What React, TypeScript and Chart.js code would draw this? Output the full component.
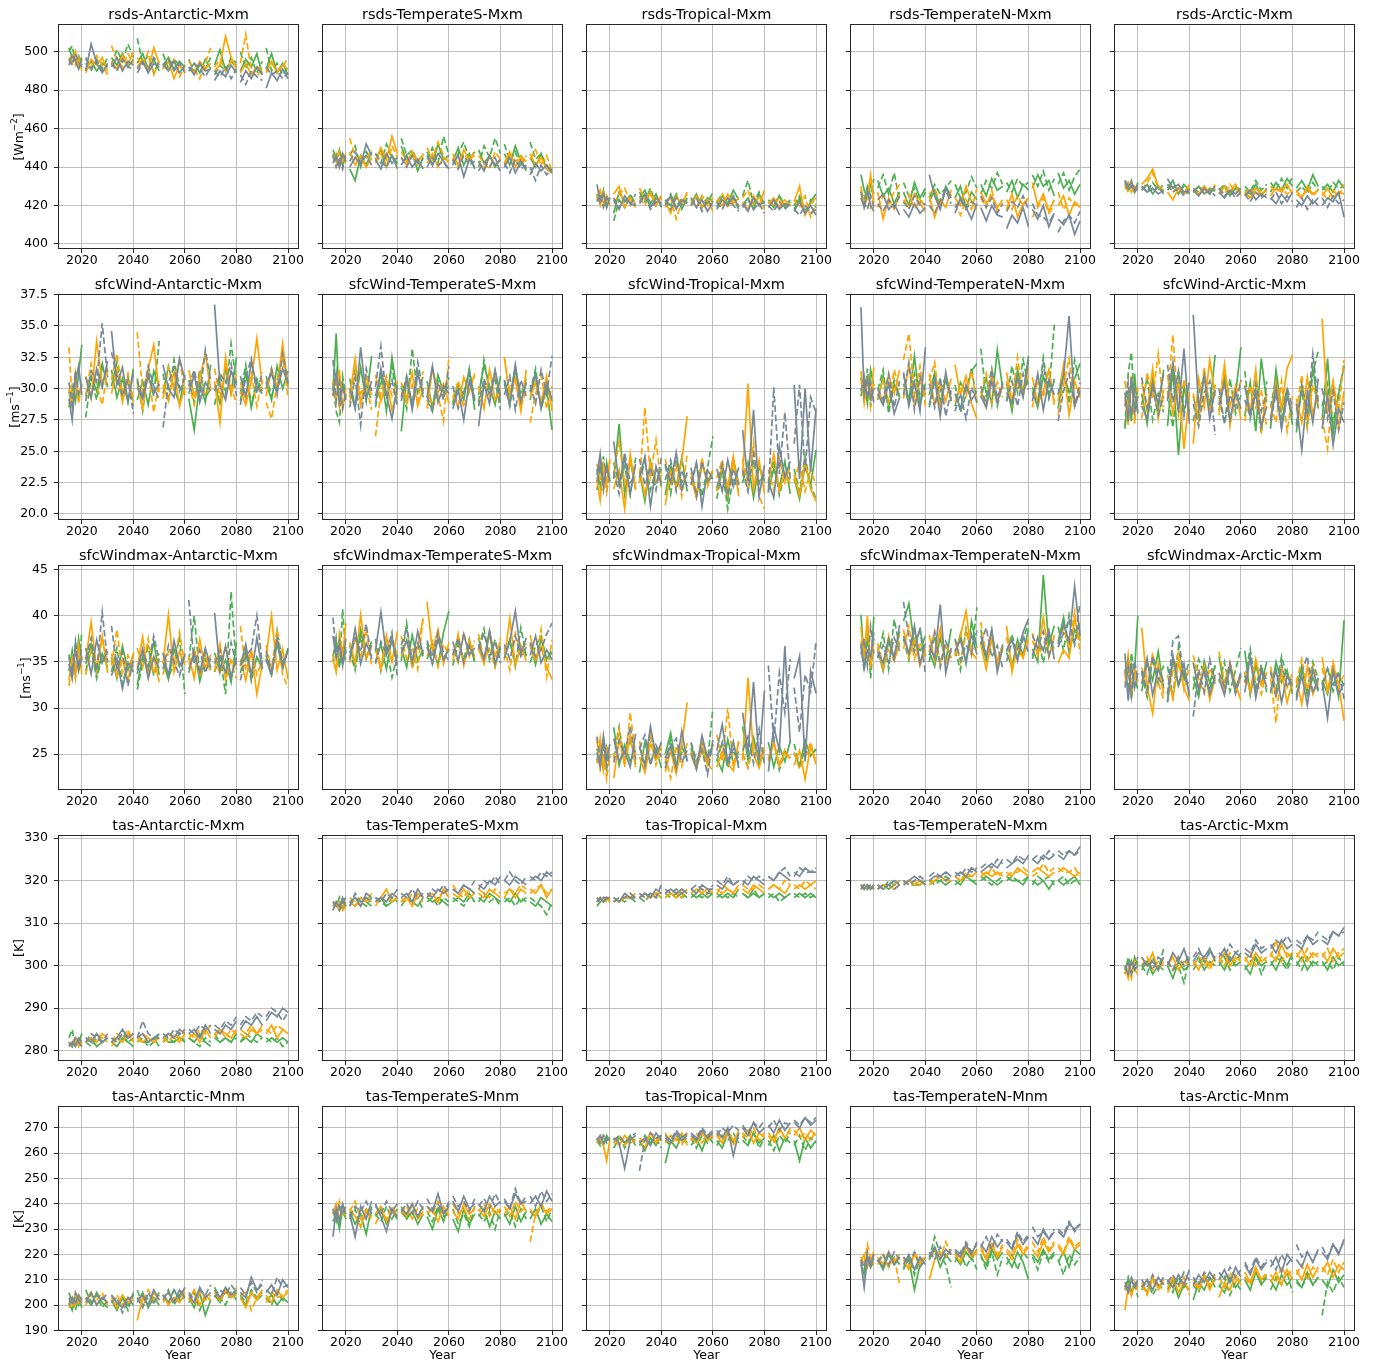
import React, { useEffect, useRef } from "react";
import { Chart, registerables } from "chart.js";
Chart.register(...registerables);

// x positions (years); each decade forms one segment of 5 samples, gaps between segments
const YEARS = [2015, 2016.25, 2017.5, 2018.75, 2020,
  2021.5, 2023.6, 2025.75, 2027.9, 2030,
  2031.5, 2033.6, 2035.75, 2037.9, 2040,
  2041.5, 2043.6, 2045.75, 2047.9, 2050,
  2051.5, 2053.6, 2055.75, 2057.9, 2060,
  2061.5, 2063.6, 2065.75, 2067.9, 2070,
  2071.5, 2073.6, 2075.75, 2077.9, 2080,
  2081.5, 2083.6, 2085.75, 2087.9, 2090,
  2091.5, 2093.6, 2095.75, 2097.9, 2100];
const SEG_LEN = 5;
const X_TICKS = [2020, 2040, 2060, 2080, 2100];
const X_MIN = 2010.75;
const X_MAX = 2104.25;

const ROW_TICKS = [
  [400, 420, 440, 460, 480, 500],
  [20, 22.5, 25, 27.5, 30, 32.5, 35, 37.5],
  [25, 30, 35, 40, 45],
  [280, 290, 300, 310, 320, 330],
  [190, 200, 210, 220, 230, 240, 250, 260, 270],
];
const ROW_MIN = [397.4, 19.52, 21.12, 277.57, 189.8];
const ROW_MAX = [514.4, 37.55, 45.49, 330.73, 278.6];
const ROW_UNIT = ["Wm", "ms", "ms", "K", "K"];
const ROW_SUP = ["−2", "−1", "−1", "", ""];

// ---------- rsds ----------
const RSDS_ANT_G1 = [502,497,499,494,497, 491,495,490,494,492, 497,493,499,492,496, 494,499,491,496,490, 493,497,491,495,492, 490,494,489,496,491, 493,501,490,495,492, 490,496,492,499,488, 491,499,489,494,488];
const RSDS_ANT_G2 = [500,503,495,498,493, 494,490,496,491,497, 493,501,495,504,497, 507,494,498,489,495, 499,491,496,493,490, 496,489,493,491,497, 488,493,490,497,494, 500,491,497,489,495, 502,490,494,488,492];
const RSDS_ANT_O1 = [497,494,500,492,496, 489,496,493,497,490, 495,491,498,493,500, 492,496,490,502,494, 491,495,486,493,490, 492,489,495,491,494, 490,493,508,497,491, 489,494,488,492,491, 490,495,489,493,491];
const RSDS_ANT_O2 = [495,499,493,497,490, 496,492,498,493,488, 503,496,492,499,494, 497,493,500,488,495, 493,490,496,487,492, 495,491,486,494,502, 492,496,490,495,493, 494,509,490,487,492, 489,494,490,492,497];
const RSDS_ANT_S1 = [493,498,495,491,496, 490,504,494,489,494, 492,497,490,495,493, 491,495,489,494,492, 494,490,495,489,493, 492,488,494,490,491, 485,490,487,493,489, 484,490,486,492,488, 481,489,485,491,486];
const RSDS_ANT_S2 = [496,493,499,495,492, 497,491,495,490,493, 494,490,496,492,491, 489,494,491,497,493, 492,496,490,494,489, 490,494,491,487,492, 490,487,492,486,491, 488,483,490,487,485, 492,488,490,486,489];

const RSDS_TS_G1 = [447,443,449,441,445, 439,433,446,441,448, 444,449,440,446,442, 451,443,447,438,445, 448,441,452,444,446, 443,450,441,447,439, 449,442,446,440,444, 447,441,451,443,438, 445,440,447,439,437];
const RSDS_TS_G2 = [449,445,442,447,443, 446,451,440,448,444, 447,442,452,445,441, 455,446,449,443,447, 444,450,442,456,446, 441,447,453,444,448, 440,451,445,455,447, 452,443,448,440,446, 453,444,447,441,438];
const RSDS_TS_O1 = [444,447,440,446,442, 448,441,446,440,445, 443,450,444,456,447, 445,441,448,443,446, 442,447,440,445,443, 447,441,449,444,446, 443,439,446,441,444, 442,448,440,446,443, 447,441,445,439,437];
const RSDS_TS_O2 = [446,441,448,443,447, 455,446,441,444,449, 442,447,440,451,445, 448,443,446,441,447, 450,444,453,446,442, 445,440,447,443,449, 446,442,439,448,444, 441,447,443,445,440, 444,449,441,446,438];
const RSDS_TS_S1 = [442,446,440,447,443, 440,445,441,452,446, 444,439,447,442,445, 441,446,440,444,439, 446,441,447,443,439, 442,446,435,444,440, 443,438,446,441,444, 440,445,437,443,439, 436,442,438,441,437];
const RSDS_TS_S2 = [446,440,444,439,447, 443,448,442,446,441, 447,443,440,446,439, 445,440,446,442,444, 440,445,441,443,438, 444,439,446,441,443, 438,443,440,445,437, 442,437,444,439,441, 440,433,441,436,439];

const RSDS_TR_G1 = [426,421,428,419,424, 416,427,422,425,420, 424,428,421,426,419, 423,420,426,418,424, 421,426,419,424,422, 419,425,421,428,423, 420,424,418,426,421, 422,419,425,420,423, 418,424,416,422,426];
const RSDS_TR_G2 = [424,427,420,425,422, 412,423,419,426,421, 427,422,429,420,425, 421,426,419,424,422, 424,419,425,421,427, 422,426,420,424,418, 425,433,421,427,419, 423,420,425,419,422, 420,425,417,423,419];
const RSDS_TR_O1 = [423,428,421,425,420, 426,430,419,424,421, 429,423,426,420,424, 422,416,425,420,427, 420,425,419,423,417, 423,420,426,421,424, 422,418,425,420,428, 421,424,419,423,420, 422,430,415,421,424];
const RSDS_TR_O2 = [425,420,427,422,424, 421,426,429,422,419, 424,420,427,422,425, 419,424,413,422,426, 423,419,425,420,424, 421,426,419,423,420, 424,428,420,425,418, 422,420,424,419,421, 423,419,425,414,421];
const RSDS_TR_S1 = [431,422,426,419,424, 423,418,425,421,420, 422,426,419,424,421, 420,425,418,423,421, 424,419,423,417,422, 418,423,420,425,419, 421,417,424,420,422, 419,423,418,421,420, 417,422,416,420,415];
const RSDS_TR_S2 = [422,426,419,424,421, 424,419,423,420,426, 421,425,418,422,420, 423,418,424,420,422, 420,424,417,423,419, 422,418,424,420,417, 419,423,418,421,416, 420,417,422,418,421, 418,415,420,416,418];

const RSDS_TN_G1 = [436,428,424,431,426, 433,425,429,421,427, 427,420,432,424,429, 422,428,419,430,425, 424,430,419,427,423, 431,425,434,428,430, 427,433,424,431,428, 429,436,430,433,425, 437,429,433,426,431];
const RSDS_TN_G2 = [428,423,430,425,434, 429,436,426,437,422, 432,425,429,421,427, 424,431,426,429,433, 431,424,427,435,429, 426,433,429,437,431, 432,427,434,430,432, 436,430,438,428,434, 431,437,428,435,439];
const RSDS_TN_O1 = [430,419,424,436,421, 427,413,424,418,426, 423,419,426,421,417, 425,414,423,419,428, 424,420,430,422,418, 427,421,425,419,423, 418,426,414,421,424, 432,420,426,417,423, 420,425,415,422,419];
const RSDS_TN_O2 = [426,421,428,419,424, 419,425,421,427,431, 421,426,418,423,420, 426,429,421,427,425, 421,415,423,418,429, 424,419,428,417,421, 423,418,425,420,424, 414,419,424,416,420, 427,418,424,420,421];
const RSDS_TN_S1 = [424,419,428,420,417, 423,426,418,421,415, 418,414,421,416,419, 436,425,418,429,424, 416,424,419,413,421, 419,412,420,415,414, 408,415,411,419,409, 418,413,420,409,416, 413,410,415,405,412];
const RSDS_TN_S2 = [427,421,418,425,419, 421,417,423,419,425, 422,418,425,420,421, 420,416,423,428,421, 419,423,418,422,420, 425,419,424,416,421, 417,422,419,425,418, 421,415,414,411,416, 406,412,415,411,417];

const RSDS_AR_G1 = [431,428,433,427,430, 428,431,426,430,427, 429,433,426,431,428, 427,430,426,429,428, 426,430,425,429,427, 428,426,431,425,429, 427,432,428,434,430, 429,433,428,436,430, 428,431,427,433,429];
const RSDS_AR_G2 = [433,429,431,427,432, 430,427,432,428,431, 428,431,427,430,426, 429,427,430,426,428, 428,431,426,430,428, 430,427,433,428,431, 432,428,434,429,435, 427,430,426,432,428, 430,427,432,429,430];
const RSDS_AR_O1 = [429,432,427,430,428, 431,434,439,430,428, 427,423,429,426,431, 428,426,430,427,429, 426,430,427,431,425, 427,424,429,426,428, 425,429,427,431,426, 428,424,430,426,428, 425,429,424,427,426];
const RSDS_AR_O2 = [430,427,431,428,429, 428,432,437,429,427, 431,427,430,426,429, 427,430,428,426,431, 429,426,431,427,428, 426,429,425,428,427, 430,427,429,426,428, 426,424,429,425,428, 427,423,428,425,431];
const RSDS_AR_S1 = [433,430,432,428,431, 430,427,429,426,428, 434,429,431,427,428, 428,425,429,426,430, 427,424,428,426,429, 425,428,423,426,424, 424,421,426,422,427, 423,420,425,421,424, 420,424,422,427,414];
const RSDS_AR_S2 = [432,428,430,427,429, 428,431,427,430,426, 431,427,429,425,428, 427,430,426,428,425, 429,425,428,424,427, 426,422,427,424,426, 423,427,421,425,422, 419,424,418,423,420, 424,419,425,421,423];

// ---------- sfcWind ----------
const WIND_ANT_G1 = [28.5,30.2,29.0,31.2,33.5, 29.4,31.0,29.8,32.0,30.1, 31.5,29.3,30.8,28.9,31.6, 29.1,30.6,28.7,31.4,30.2, 29.6,31.8,30.0,28.8,31.1, 29.2,26.7,30.5,28.9,31.9, 30.4,28.8,31.6,29.7,32.5, 29.0,31.3,28.5,30.6,29.8, 30.5,29.1,31.8,30.0,31.4];
const WIND_ANT_G2 = [29.8,28.4,31.0,29.2,30.4, 27.7,30.9,29.1,31.7,30.3, 30.2,32.1,29.5,31.0,28.6, 30.8,28.2,31.5,29.4,33.8, 31.2,29.0,32.3,30.1,29.5, 30.7,28.9,31.5,29.3,30.0, 28.7,31.0,29.6,33.6,30.4, 29.6,31.9,28.6,30.8,29.9, 31.0,29.4,30.7,32.9,30.1];
const WIND_ANT_O1 = [30.0,28.6,31.1,29.4,30.3, 31.0,29.2,33.8,30.4,31.6, 29.6,31.5,28.9,30.7,29.3, 30.5,28.4,31.6,33.5,29.7, 30.3,29.0,31.4,28.6,30.2, 31.5,29.4,30.8,32.8,29.9, 30.6,27.3,32.5,29.5,31.1, 29.8,28.7,30.6,34.0,30.3, 29.4,31.6,30.0,33.6,30.2];
const WIND_ANT_O2 = [33.3,29.0,31.2,28.8,30.5, 29.5,32.0,30.3,28.7,31.5, 30.7,32.8,29.6,31.2,28.9, 34.5,29.8,31.4,28.1,30.6, 29.2,31.7,30.0,32.4,29.6, 30.4,28.7,31.1,29.5,30.2, 31.6,29.3,32.0,30.1,28.8, 30.5,29.0,31.2,28.6,30.7, 28.9,27.6,30.4,32.6,29.3];
const WIND_ANT_S1 = [29.2,27.5,30.6,31.8,29.5, 30.9,29.3,31.6,30.1,32.2, 34.6,30.3,31.7,29.0,31.2, 30.1,29.2,31.0,29.6,30.4, 31.9,30.0,29.3,32.4,30.7, 29.6,31.1,28.9,30.5,29.8, 36.7,30.2,29.1,31.4,30.3, 31.0,29.4,32.1,30.2,29.6, 30.4,31.2,29.8,31.6,30.5];
const WIND_ANT_S2 = [30.5,28.7,31.4,29.6,30.2, 29.0,31.4,30.6,35.2,30.9, 32.9,31.0,29.4,30.7,28.0, 30.6,29.3,31.8,30.2,29.1, 26.9,30.5,31.7,29.8,30.9, 30.2,31.5,29.4,33.1,30.6, 29.8,31.2,30.5,32.0,29.4, 28.7,30.9,32.4,29.6,31.3, 30.0,31.6,29.5,32.8,30.4];

const WIND_TS_G1 = [29.8,34.4,28.6,30.5,29.2, 30.8,28.5,31.7,29.0,32.6, 29.4,31.2,28.2,32.5,29.6, 26.6,30.9,28.7,31.4,29.3, 30.6,28.5,31.1,29.7,30.2, 28.9,30.4,29.1,31.6,28.3, 29.5,31.9,30.2,28.7,31.0, 30.7,29.2,31.8,28.8,30.5, 29.1,31.3,28.4,30.0,26.7];
const WIND_TS_G2 = [30.5,28.2,27.3,31.0,29.4, 29.6,31.5,28.8,30.3,29.0, 28.5,30.7,29.3,31.8,28.9, 30.2,28.4,33.2,29.5,31.0, 29.1,28.2,30.6,29.4,30.9, 28.7,30.1,29.6,31.5,29.2, 28.9,32.3,29.8,30.7,28.3, 30.4,28.6,31.4,29.5,30.8, 29.7,31.6,28.5,30.1,29.0];
const WIND_TS_O1 = [30.6,29.0,31.5,28.4,30.0, 29.3,32.4,28.7,31.0,29.5, 31.1,29.0,30.6,28.3,29.8, 30.5,29.2,31.3,28.6,30.1, 28.4,31.6,29.7,30.4,28.8, 29.5,28.6,30.9,29.8,31.2, 30.2,28.4,31.5,29.1,30.0, 32.4,29.6,30.8,28.2,31.5, 29.3,30.5,28.9,31.0,28.2];
const WIND_TS_O2 = [29.5,30.8,28.6,30.1,29.3, 28.9,31.2,29.6,30.4,28.3, 26.2,29.8,31.0,29.4,30.6, 29.7,28.8,30.3,29.0,31.4, 30.1,28.6,29.5,27.4,32.6, 29.2,30.6,28.5,29.8,31.0, 28.7,30.2,29.4,31.3,28.9, 32.5,29.3,30.7,28.6,29.9, 27.3,29.6,31.1,28.4,30.2];
const WIND_TS_S1 = [29.4,31.3,28.9,30.2,29.1, 30.0,28.4,33.3,29.2,30.6, 28.8,31.6,29.5,27.6,30.3, 29.0,30.8,28.3,31.2,29.6, 29.3,31.8,28.9,30.2,29.6, 28.4,29.9,27.5,30.6,29.1, 27.0,30.4,28.8,31.5,29.4, 30.6,28.7,31.9,29.0,30.5, 29.8,31.1,28.5,30.4,29.2];
const WIND_TS_S2 = [32.3,29.0,30.5,28.4,29.6, 28.5,30.9,27.1,31.6,29.8, 30.1,33.4,29.2,30.7,28.6, 29.3,31.0,28.6,32.1,29.8, 29.4,28.2,30.5,29.1,31.8, 30.2,28.4,29.7,31.2,29.0, 28.6,30.8,29.5,31.4,28.8, 29.5,31.0,28.3,30.7,29.4, 30.3,28.8,31.5,29.6,32.6];

const WIND_TR_G1 = [21.9,23.8,22.3,24.1,22.6, 22.8,27.2,21.6,24.3,22.0, 23.4,21.0,24.2,22.5,23.6, 21.5,23.9,22.2,24.5,21.8, 23.0,21.4,24.0,22.7,23.3, 21.9,23.5,21.2,24.4,22.4, 22.5,24.1,21.3,23.8,22.6, 21.8,23.6,22.1,24.2,21.6, 22.8,21.2,23.9,22.3,25.1];
const WIND_TR_G2 = [23.6,22.1,24.6,21.8,23.2, 24.1,22.3,23.8,21.5,24.5, 22.6,24.2,21.9,23.5,22.2, 23.9,21.6,24.4,22.5,23.1, 22.3,24.0,21.4,23.7,26.2, 21.2,23.6,20.4,22.9,21.8, 23.4,21.9,24.1,22.6,23.0, 22.2,24.3,21.5,23.2,22.7, 23.6,21.8,24.6,22.3,21.2];
const WIND_TR_O1 = [22.7,21.1,23.9,22.3,24.4, 22.0,23.5,20.4,24.8,21.9, 23.6,21.5,24.0,22.6,23.1, 20.7,23.4,22.1,24.2,27.8, 22.9,21.3,24.1,22.4,23.5, 21.8,23.9,22.2,24.6,21.4, 23.0,30.4,22.0,24.3,21.6, 22.5,24.8,21.9,23.3,22.4, 23.1,21.5,24.2,22.0,21.0];
const WIND_TR_O2 = [24.0,22.6,23.4,21.8,24.2, 23.1,25.8,22.4,24.1,22.9, 22.5,28.5,23.0,25.9,22.1, 24.4,22.3,23.9,21.4,24.8, 23.3,21.7,24.5,22.2,23.6, 22.9,24.3,21.6,23.9,22.4, 24.4,22.0,25.7,21.4,20.4, 23.5,21.9,24.4,22.5,23.8, 22.6,24.1,21.8,23.5,22.3];
const WIND_TR_S1 = [23.1,24.8,22.2,23.9,22.6, 25.8,22.4,24.5,21.6,24.0, 22.9,24.6,20.6,23.8,22.4, 24.0,22.5,24.9,21.9,23.3, 22.4,24.1,20.6,23.5,22.8, 23.6,21.8,24.3,22.2,23.7, 26.7,22.6,28.3,21.4,23.9, 22.6,21.3,25.4,22.9,24.2, 30.3,22.8,30.0,23.4,28.4];
const WIND_TR_S2 = [22.6,24.2,21.9,23.5,22.8, 23.4,21.6,24.9,22.5,23.1, 24.4,22.3,23.7,21.9,24.5, 22.7,24.3,21.8,23.5,22.2, 23.7,21.4,24.2,22.6,23.0, 22.1,24.0,21.5,23.6,22.3, 23.5,21.8,24.8,22.4,23.2, 21.7,30.1,23.2,28.1,22.8, 25.6,30.3,23.4,29.3,28.1];

const WIND_TN_G1 = [29.4,30.6,28.8,31.5,30.2, 29.1,31.0,28.6,30.3,29.5, 31.2,29.0,32.6,28.7,30.4, 29.5,31.3,28.9,30.7,29.2, 28.6,30.5,29.8,31.4,32.0, 29.3,30.9,28.7,33.1,30.0, 30.4,28.2,31.5,29.6,32.6, 29.8,28.5,31.0,29.4,30.6, 28.4,31.2,29.7,30.8,32.0];
const WIND_TN_G2 = [30.9,29.2,31.6,28.6,30.1, 29.9,31.5,28.0,30.7,29.3, 30.4,28.8,31.2,29.5,30.0, 28.5,30.6,29.8,31.0,29.0, 30.3,28.1,29.5,31.7,28.9, 33.2,29.4,31.6,28.6,30.5, 29.0,31.8,29.7,32.3,30.2, 30.1,28.9,32.5,29.6,35.1, 29.5,31.7,28.8,32.3,30.4];
const WIND_TN_O1 = [31.4,28.8,30.6,29.5,31.7, 30.0,28.9,31.1,29.6,31.5, 29.2,31.9,28.6,30.7,29.4, 31.2,28.7,30.3,29.0,30.8, 31.9,29.5,31.0,28.8,27.6, 29.8,28.5,31.3,29.0,30.2, 31.3,28.9,30.6,29.5,31.7, 30.9,28.8,29.8,31.5,28.7, 29.0,31.9,27.9,30.6,29.3];
const WIND_TN_O2 = [30.5,29.7,31.1,28.6,30.4, 29.2,30.7,28.9,31.5,29.9, 32.3,34.4,29.5,31.8,28.6, 30.6,32.1,28.4,31.0,29.5, 28.9,30.2,29.4,31.4,28.8, 29.6,31.2,28.9,30.5,29.3, 30.6,28.8,32.5,29.5,31.0, 28.5,30.7,29.3,31.6,28.9, 27.9,30.3,32.4,28.8,30.1];
const WIND_TN_S1 = [36.5,29.5,30.8,29.2,30.0, 29.6,28.7,30.4,28.0,29.3, 31.3,28.6,30.5,28.2,33.3, 28.7,30.8,27.8,31.3,29.0, 29.6,28.4,30.3,29.1,29.8, 29.4,28.5,30.6,28.9,30.4, 29.7,28.8,30.9,29.3,32.3, 29.0,31.2,28.3,30.7,29.5, 29.6,31.0,35.8,28.6,29.8];
const WIND_TN_S2 = [29.8,31.0,29.3,30.5,28.9, 30.0,29.1,31.2,28.5,30.6, 29.5,32.1,28.3,31.0,29.6, 30.4,28.5,30.9,27.8,29.9, 28.2,29.6,27.6,30.1,28.9, 30.2,28.7,31.5,29.3,30.4, 29.0,30.6,28.6,31.2,29.9, 29.6,28.8,32.0,29.2,30.8, 27.4,29.8,31.2,28.6,30.5];

const WIND_AR_G1 = [26.8,29.5,27.4,31.2,28.0, 29.6,27.2,30.8,28.4,31.5, 27.0,31.6,24.7,30.2,28.1, 29.4,27.6,31.3,28.5,32.7, 28.2,30.9,27.4,29.5,33.3, 27.8,30.5,26.6,32.4,28.9, 26.8,31.5,28.3,29.9,27.1, 26.5,30.2,27.9,31.7,28.4, 27.5,32.4,26.3,29.6,31.8];
const WIND_AR_G2 = [27.0,31.2,32.9,28.4,30.1, 28.7,30.9,27.5,29.6,28.1, 29.8,26.9,31.4,28.2,30.5, 27.4,29.6,31.0,28.6,30.3, 29.4,27.2,30.8,28.0,29.5, 31.4,27.6,29.9,26.4,30.6, 28.5,30.8,27.7,29.3,28.1, 27.2,29.9,26.9,31.3,33.0, 28.6,30.4,27.3,29.6,31.9];
const WIND_AR_O1 = [29.3,27.1,30.8,28.0,29.4, 30.5,28.2,31.6,27.6,29.9, 31.1,28.0,30.4,25.2,29.7, 25.6,30.8,28.5,32.3,29.4, 27.9,31.8,28.6,30.2,27.5, 30.3,28.1,31.5,26.7,29.6, 27.6,30.5,28.4,31.6,32.7, 29.2,27.3,30.9,28.0,29.5, 35.6,28.2,30.6,26.9,29.8];
const WIND_AR_O2 = [30.6,28.3,31.0,27.2,30.1, 27.6,31.3,29.2,32.8,28.5, 29.2,34.3,27.9,30.7,28.4, 29.6,27.3,31.7,28.1,30.4, 28.8,31.9,27.0,29.5,30.6, 27.4,30.2,28.5,29.9,26.9, 28.7,27.3,30.6,26.6,29.4, 28.2,31.1,27.0,30.3,28.6, 27.7,25.2,30.4,28.3,32.3];
const WIND_AR_S1 = [29.7,27.4,30.9,28.2,29.4, 28.6,27.6,30.4,28.8,31.2, 29.0,32.1,28.1,33.2,27.2, 35.9,28.4,31.0,27.6,29.9, 28.7,30.5,27.5,29.8,28.4, 30.2,27.9,29.6,27.0,28.6, 27.5,30.1,26.8,29.4,27.9, 28.8,25.1,29.7,27.3,30.8, 26.8,29.5,25.5,28.4,27.3];
const WIND_AR_S2 = [28.6,30.5,27.9,29.8,28.0, 30.9,28.5,30.0,27.9,29.4, 31.9,28.9,31.4,27.8,30.6, 28.8,27.0,29.7,30.6,26.3, 30.0,27.2,29.5,28.5,30.7, 29.1,27.8,30.4,28.2,29.6, 27.4,29.6,26.9,30.1,28.5, 27.0,30.3,28.1,32.8,28.9, 30.0,27.6,29.8,26.7,28.9];

// ---------- sfcWindmax ----------
const WMAX_ANT_G1 = [34.0,36.2,33.5,37.5,35.1, 34.8,36.9,33.6,35.9,34.4, 35.5,33.2,36.7,34.1,35.8, 32.5,35.6,34.0,37.2,33.6, 35.0,33.1,36.4,34.5,35.7, 33.8,36.3,32.9,35.4,34.1, 36.0,33.9,35.2,32.8,37.1, 34.6,36.0,33.4,35.5,34.3, 35.7,33.6,37.0,34.2,36.5];
const WMAX_ANT_G2 = [35.8,33.4,37.1,34.6,38.2, 34.0,36.3,33.2,35.6,34.8, 33.9,36.5,32.6,35.0,34.1, 32.0,34.9,36.6,33.5,35.3, 36.0,33.3,34.8,37.7,31.5, 35.2,40.0,33.6,36.1,34.4, 33.9,35.8,31.5,42.6,34.2, 33.8,36.2,32.9,35.5,34.6, 35.3,33.5,38.4,34.9,36.3];
const WMAX_ANT_O1 = [33.0,35.5,34.0,36.8,33.7, 35.2,39.3,34.1,37.8,33.8, 35.9,33.4,35.3,32.9,36.0, 34.4,37.7,33.5,35.6,32.8, 34.8,40.1,33.9,36.1,34.7, 35.6,33.2,37.4,34.3,35.8, 34.0,36.9,33.1,35.2,34.5, 35.3,33.0,36.2,31.5,34.8, 35.6,40.0,34.1,36.4,33.1];
const WMAX_ANT_O2 = [32.4,34.9,33.1,35.8,34.4, 33.6,36.2,34.6,37.5,35.0, 34.6,38.5,33.8,35.7,34.2, 36.5,34.4,37.5,33.7,35.9, 33.6,36.1,34.8,38.2,34.5, 34.7,36.4,33.3,35.6,34.0, 35.4,33.7,36.7,34.9,33.2, 38.9,34.1,36.3,33.6,35.2, 36.8,34.2,38.5,33.6,32.2];
const WMAX_ANT_S1 = [34.8,33.2,36.4,34.0,35.6, 36.5,33.7,37.4,34.9,36.2, 33.5,35.3,32.1,34.9,33.9, 34.1,36.4,33.2,35.5,34.3, 35.9,33.5,37.3,34.6,35.6, 34.2,35.9,33.8,36.5,34.4, 40.3,34.0,36.7,33.3,35.5, 34.6,36.9,33.5,37.6,34.2, 35.2,33.6,37.3,34.5,36.2];
const WMAX_ANT_S2 = [35.5,33.8,37.2,34.4,36.6, 35.3,37.6,34.0,40.4,35.0, 38.9,34.3,36.1,32.4,35.3, 33.7,36.2,34.5,37.8,35.2, 34.2,36.8,35.0,33.5,35.9, 41.7,34.8,36.3,33.8,35.4, 34.8,36.2,33.7,37.1,34.6, 33.0,35.6,36.4,40.0,34.8, 36.2,34.0,37.5,35.1,35.7];

const WMAX_TS_G1 = [35.6,37.1,34.8,36.4,35.2, 36.8,34.6,38.5,35.3,37.2, 35.0,36.9,34.2,37.6,35.5, 36.6,34.4,37.9,35.1,36.3, 35.3,37.0,34.6,38.2,40.5, 35.7,37.4,34.9,36.7,35.2, 37.6,35.0,38.1,34.6,36.5, 35.4,37.3,34.8,36.6,35.7, 36.9,34.7,37.5,35.3,36.0];
const WMAX_TS_G2 = [35.0,37.6,34.3,40.7,35.8, 36.2,34.1,37.7,35.4,36.8, 37.5,34.0,36.6,33.3,35.8, 35.1,39.2,34.3,36.7,35.6, 37.0,34.8,38.1,35.4,36.3, 34.6,36.9,35.3,37.5,34.9, 36.5,38.6,35.2,37.4,34.9, 35.9,37.4,34.5,38.7,35.6, 34.9,36.7,37.8,35.2,36.4];
const WMAX_TS_O1 = [35.3,33.9,38.0,35.6,39.2, 37.1,34.9,40.1,35.4,36.6, 36.3,34.2,37.6,35.0,38.3, 35.6,37.4,34.5,36.8,39.6, 41.5,36.2,38.5,34.8,37.1, 35.1,38.0,34.6,37.3,35.5, 36.4,34.8,38.3,35.6,37.2, 35.2,39.7,34.6,36.8,35.1, 37.9,35.3,36.6,34.4,33.1];
const WMAX_TS_O2 = [35.8,34.0,37.2,35.3,36.6, 34.9,37.6,35.4,38.5,34.6, 36.6,34.4,37.9,35.1,36.2, 37.8,35.3,36.6,34.2,40.0, 35.6,37.2,34.5,36.9,35.8, 36.4,34.9,38.2,35.6,37.3, 38.0,35.2,36.4,34.4,37.6, 36.6,34.1,38.1,35.7,37.0, 36.8,35.0,38.5,33.4,37.4];
const WMAX_TS_S1 = [37.8,35.4,36.8,34.6,37.5, 35.2,38.6,34.8,37.0,35.6, 36.2,40.4,35.7,37.4,34.6, 35.9,37.3,35.0,38.3,35.8, 36.6,34.8,37.5,35.2,36.4, 37.2,35.1,38.0,35.8,36.5, 36.9,35.3,38.4,34.8,36.7, 35.4,37.2,40.5,35.9,37.6, 35.7,37.8,34.9,36.3,35.2];
const WMAX_TS_S2 = [39.8,35.9,37.3,34.6,36.2, 35.4,37.6,36.1,39.1,35.3, 34.8,37.2,35.9,38.2,33.4, 36.8,38.6,35.2,37.0,35.9, 37.3,35.5,38.2,36.0,35.1, 35.8,37.6,34.9,36.8,35.4, 36.4,38.1,35.6,37.2,34.9, 36.9,35.3,37.8,35.6,36.6, 37.1,35.6,36.3,38.0,39.2];

const WMAX_TR_G1 = [24.3,26.1,23.4,25.8,24.6, 27.9,23.8,26.0,24.2,25.4, 23.0,26.3,24.1,25.6,23.5, 25.0,27.3,23.7,25.9,24.4, 26.2,23.6,25.4,24.0,26.1, 24.5,23.2,26.6,24.0,25.3, 28.0,24.4,26.8,23.8,25.5, 26.3,23.6,25.9,24.2,26.4, 25.2,23.7,26.5,24.8,25.6];
const WMAX_TR_G2 = [25.6,24.2,26.8,23.5,25.4, 24.6,28.0,24.1,26.7,23.9, 25.8,23.6,27.2,24.5,25.9, 24.0,26.6,23.4,25.2,24.7, 25.6,23.4,26.4,24.2,30.0, 24.2,26.3,23.5,25.4,24.0, 25.1,23.6,26.2,24.9,25.7, 24.4,26.5,23.3,25.3,24.6, 26.1,23.8,25.4,24.9,25.5];
const WMAX_TR_O1 = [24.0,26.7,23.3,25.6,24.6, 22.4,26.6,24.1,27.0,23.6, 24.7,23.0,26.2,24.4,25.8, 23.1,25.4,22.9,26.0,30.6, 24.9,23.5,25.7,23.8,26.1, 23.6,25.3,24.0,23.2,26.4, 24.3,33.3,25.0,23.5,25.6, 24.2,26.3,23.7,25.1,24.6, 23.8,25.4,22.3,25.9,23.9];
const WMAX_TR_O2 = [26.5,23.4,25.2,22.3,25.0, 24.5,27.6,23.6,29.5,24.9, 26.4,24.0,27.4,23.8,25.6, 24.8,22.4,25.9,23.7,26.2, 25.3,23.6,26.4,24.1,23.1, 27.1,24.2,30.0,23.6,26.4, 25.0,23.5,26.1,24.4,25.7, 24.6,26.2,23.9,25.5,24.3, 25.1,23.4,24.6,26.3,24.1];
const WMAX_TR_S1 = [25.2,23.6,27.0,24.4,26.1, 26.7,24.2,25.3,23.6,27.2, 25.9,23.7,28.0,24.8,26.3, 24.6,25.9,23.5,27.5,24.2, 25.1,23.4,27.0,24.6,26.0, 25.4,28.2,24.1,26.4,23.5, 29.5,25.2,32.8,24.3,31.9, 23.1,28.0,25.4,36.7,26.2, 33.2,35.6,24.2,34.0,31.6];
const WMAX_TR_S2 = [26.9,24.3,25.9,23.6,25.2, 24.1,26.5,25.0,28.0,24.4, 25.6,27.1,23.8,26.0,24.7, 23.5,25.8,26.7,24.1,25.4, 26.3,24.3,25.5,22.8,26.6, 24.8,26.2,23.9,25.6,24.5, 25.4,26.9,24.0,27.7,23.9, 34.6,26.3,33.8,29.5,35.3, 32.2,27.4,33.6,31.8,37.2];

const WMAX_TN_G1 = [40.1,35.2,37.6,34.1,39.9, 36.4,34.0,37.2,35.5,38.3, 39.4,41.3,36.7,38.5,35.6, 36.2,34.5,37.6,35.0,38.6, 35.8,38.0,34.8,39.4,36.5, 37.1,35.3,38.4,34.6,36.9, 36.0,34.5,37.4,35.7,38.6, 36.4,35.0,44.4,36.8,38.9, 37.2,39.8,36.0,38.5,37.3];
const WMAX_TN_G2 = [36.8,34.0,38.4,33.2,37.6, 35.5,38.1,34.2,39.6,36.6, 37.5,35.2,38.4,36.0,37.9, 35.0,37.8,34.9,36.9,35.4, 36.3,34.1,38.6,35.8,40.9, 38.5,35.2,37.3,34.9,36.8, 36.1,38.0,35.5,37.4,39.3, 35.3,37.6,34.9,38.0,36.3, 38.8,36.2,40.1,37.0,39.5];
const WMAX_TN_O1 = [38.8,35.4,40.0,34.5,37.1, 36.6,34.3,37.8,35.2,36.8, 38.5,35.5,37.4,34.6,36.3, 37.9,35.1,38.6,34.8,36.4, 35.6,37.8,40.5,36.0,35.3, 36.9,34.2,37.5,35.1,36.7, 38.9,33.9,36.8,35.4,37.5, 37.3,35.8,39.8,35.5,37.9, 34.9,36.3,35.4,39.7,37.3];
const WMAX_TN_O2 = [37.3,35.8,38.6,34.7,36.5, 37.0,34.6,36.3,35.1,38.0, 36.4,38.9,35.3,37.1,35.7, 36.1,38.3,34.8,36.9,35.4, 37.3,35.0,38.4,35.7,36.6, 39.3,35.6,37.4,34.8,36.4, 37.7,34.5,36.2,35.5,37.8, 38.1,35.6,36.8,38.4,35.8, 37.1,38.6,36.5,40.5,35.9];
const WMAX_TN_S1 = [37.0,34.3,36.2,35.6,38.2, 36.1,34.9,37.5,35.3,39.0, 37.8,35.9,38.9,34.8,37.0, 36.8,35.4,41.2,33.8,36.5, 36.2,37.4,35.0,38.0,35.8, 37.8,35.6,38.5,33.9,36.6, 36.3,37.4,35.1,38.2,39.7, 35.7,37.6,36.2,38.4,35.3, 36.9,39.1,37.2,43.2,37.8];
const WMAX_TN_S2 = [35.8,37.5,34.6,38.8,35.9, 35.4,36.8,34.9,37.6,36.2, 41.5,37.6,36.1,38.7,33.7, 35.7,38.2,34.4,37.2,36.0, 37.5,35.2,36.8,35.9,38.4, 37.0,38.7,35.5,36.8,34.3, 35.1,37.2,36.4,38.0,35.9, 37.9,36.5,38.3,35.6,37.6, 36.6,38.1,39.5,36.9,41.4];

const WMAX_AR_G1 = [33.6,35.3,31.0,34.2,40.0, 31.8,34.9,33.0,36.1,32.1, 30.6,35.2,32.4,34.0,31.6, 33.4,31.2,35.1,32.7,34.6, 35.6,32.0,34.4,31.6,33.5, 36.2,31.4,34.6,32.6,35.0, 31.6,35.0,32.8,34.1,31.5, 32.2,34.6,31.4,33.3,31.8, 33.0,31.5,34.1,31.2,39.5];
const WMAX_AR_G2 = [34.2,31.6,36.0,33.2,32.0, 33.8,31.2,35.4,32.6,34.6, 34.5,31.3,36.6,33.0,35.2, 32.0,35.3,33.7,31.9,34.6, 32.8,35.0,31.8,34.1,36.5, 33.3,36.4,32.2,34.7,31.7, 34.1,32.0,35.6,33.4,32.6, 31.4,33.9,32.1,35.0,33.1, 32.6,34.4,31.8,33.7,32.4];
const WMAX_AR_O1 = [32.7,34.6,31.6,33.8,32.8, 38.7,32.4,29.4,34.8,31.5, 33.6,31.0,35.0,32.2,30.8, 35.0,32.1,34.6,30.9,33.3, 33.7,31.9,34.9,32.6,30.8, 33.9,31.8,35.3,32.5,33.8, 34.5,31.2,33.8,30.6,32.9, 33.2,30.4,34.5,31.5,33.0, 35.5,31.9,34.6,32.6,28.6];
const WMAX_AR_O2 = [33.3,35.8,32.6,34.6,33.0, 34.4,31.8,36.0,32.8,30.9, 31.4,33.9,36.0,32.0,34.5, 35.7,33.2,31.6,34.3,32.9, 36.1,32.9,34.8,31.7,33.4, 32.7,35.2,33.0,31.5,34.0, 33.2,28.4,34.6,32.2,33.8, 32.8,35.3,31.9,34.6,32.4, 34.3,31.6,35.0,32.5,33.6];
const WMAX_AR_S1 = [35.9,30.8,34.6,32.2,33.8, 32.6,35.4,31.4,34.2,32.9, 30.7,35.7,32.5,34.8,31.2, 34.9,32.0,34.1,31.5,33.6, 33.2,31.4,34.5,32.2,33.7, 31.7,35.6,31.1,34.0,32.3, 31.8,34.2,30.6,33.5,32.4, 31.2,33.5,30.3,34.2,32.0, 32.8,28.9,34.1,31.5,32.7];
const WMAX_AR_S2 = [32.2,34.4,31.3,35.1,33.0, 34.0,31.9,35.6,33.2,32.4, 31.5,37.3,37.8,33.1,32.6, 29.1,34.2,31.7,35.3,32.5, 33.8,32.3,34.9,31.6,34.0, 32.8,35.4,31.9,34.3,33.0, 33.9,31.2,34.8,32.3,33.4, 30.8,33.9,35.6,31.6,33.2, 31.9,34.3,32.5,33.9,31.0];

// ---------- tas Mxm ----------
const TMX_ANT_G1 = [282,281,283,282,284, 282,283,281,282,283, 282,281,283,282,281, 283,282,282,283,281, 283,282,282,283,282, 283,282,284,282,281, 283,282,283,282,284, 282,283,282,284,283, 282,283,282,283,282];
const TMX_ANT_G2 = [283,285,281,282,283, 282,281,283,282,283, 283,282,284,282,283, 282,283,281,282,284, 282,283,282,284,282, 283,282,281,283,282, 284,282,283,282,283, 282,284,283,282,283, 283,282,283,281,282];
const TMX_ANT_O1 = [281,282,283,281,282, 282,283,282,284,283, 281,283,282,284,282, 283,282,283,282,283, 282,284,283,282,284, 283,284,282,285,283, 283,285,284,283,285, 284,283,285,284,286, 284,286,283,285,284];
const TMX_ANT_O2 = [282,281,282,283,281, 283,282,284,283,282, 282,284,283,285,282, 282,284,283,282,283, 283,282,284,283,285, 284,283,285,284,286, 284,285,283,285,284, 285,284,286,284,285, 285,284,286,285,284];
const TMX_ANT_S1 = [281,282,281,283,282, 283,282,284,282,283, 282,283,285,283,284, 283,284,282,283,283, 283,284,283,285,284, 284,285,283,286,284, 285,284,286,285,287, 285,287,286,288,286, 287,289,288,290,289];
const TMX_ANT_S2 = [282,281,283,282,281, 282,284,283,282,284, 283,282,284,283,284, 283,287,284,283,284, 284,283,285,284,285, 285,284,286,285,286, 286,285,287,286,288, 286,288,287,289,288, 288,290,289,287,289];

const TMX_TS_G1 = [314,315,313,315,314, 315,314,316,315,314, 315,316,314,315,316, 315,316,315,314,316, 316,315,316,315,314, 315,316,315,317,315, 316,315,317,316,315, 316,315,317,315,316, 315,314,316,315,314];
const TMX_TS_G2 = [315,314,316,313,315, 314,316,315,314,316, 316,315,314,316,315, 314,316,315,316,313, 315,316,314,316,315, 316,315,314,316,315, 315,317,315,316,314, 315,316,314,316,315, 316,315,314,312,315];
const TMX_TS_O1 = [314,315,313,314,315, 315,314,316,315,317, 315,316,318,315,316, 315,316,314,317,316, 316,317,315,318,316, 317,316,318,316,317, 317,316,318,317,316, 317,318,316,318,317, 318,317,319,316,318];
const TMX_TS_O2 = [315,314,315,313,314, 316,315,314,316,315, 314,316,315,317,316, 316,315,317,316,315, 317,316,315,318,316, 319,317,316,318,317, 318,317,316,318,317, 316,318,317,319,318, 317,318,319,317,318];
const TMX_TS_S1 = [313,315,314,316,314, 315,316,314,317,316, 315,316,315,317,316, 316,317,315,318,316, 317,316,318,317,318, 318,317,319,318,317, 319,318,320,319,321, 320,319,321,320,319, 320,321,320,322,321];
const TMX_TS_S2 = [315,314,313,315,316, 314,317,315,316,315, 316,315,317,316,318, 317,316,318,316,317, 316,318,317,319,317, 318,317,319,318,320, 318,320,319,321,319, 320,322,320,319,321, 321,320,322,321,322];

const TMX_TR_G1 = [315,316,315,316,315, 316,315,316,316,315, 316,317,316,317,316, 316,317,316,317,316, 317,316,317,316,317, 317,316,317,316,318, 317,316,317,316,317, 317,316,317,316,317, 316,317,316,317,316];
const TMX_TR_G2 = [314,315,316,315,316, 315,316,315,316,316, 316,315,317,316,316, 317,316,317,316,317, 316,317,316,317,317, 316,317,316,317,316, 317,316,318,316,317, 316,317,315,316,317, 317,316,317,316,317];
const TMX_TR_O1 = [315,316,315,316,315, 316,315,316,316,317, 316,317,316,317,317, 316,317,316,318,317, 317,318,317,318,317, 318,317,318,317,319, 318,317,319,318,317, 318,319,318,317,319, 318,319,318,319,320];
const TMX_TR_O2 = [316,315,316,315,316, 315,316,316,317,316, 317,316,316,317,316, 317,318,317,316,318, 318,317,318,317,318, 317,319,318,317,318, 319,318,318,319,318, 318,319,318,320,319, 319,318,320,319,318];
const TMX_TR_S1 = [315,316,315,316,316, 316,315,317,316,316, 316,317,316,318,317, 317,318,317,318,317, 318,317,319,318,318, 319,318,320,319,320, 320,319,321,320,319, 321,320,322,321,320, 322,321,323,322,322];
const TMX_TR_S2 = [316,315,316,316,315, 315,316,316,317,316, 317,316,317,316,319, 318,317,318,317,318, 318,319,318,317,319, 320,319,321,319,320, 319,321,320,321,320, 321,320,322,323,321, 321,323,322,322,323];

const TMX_TN_G1 = [319,318,319,318,319, 318,319,318,319,320, 319,320,319,319,320, 319,320,320,319,320, 320,319,321,320,319, 320,321,320,319,320, 321,320,320,319,321, 320,319,320,318,320, 320,319,320,321,319];
const TMX_TN_G2 = [318,319,318,319,318, 319,318,320,319,319, 320,319,319,320,319, 320,319,320,321,320, 319,320,321,320,320, 321,320,319,320,321, 320,321,320,320,321, 319,321,320,321,319, 320,321,319,320,320];
const TMX_TN_O1 = [319,318,319,318,319, 318,319,319,318,319, 319,320,319,320,319, 320,320,321,320,320, 321,320,321,321,322, 321,322,321,322,321, 322,321,323,322,321, 322,323,322,321,322, 322,323,322,321,322];
const TMX_TN_O2 = [318,319,318,319,318, 319,318,319,319,320, 320,319,320,319,320, 319,320,321,320,321, 321,320,322,321,321, 322,321,323,321,322, 321,322,322,323,322, 321,322,324,322,323, 323,322,322,323,321];
const TMX_TN_S1 = [319,318,319,318,319, 319,318,319,320,319, 319,320,321,320,319, 320,321,321,322,321, 321,322,321,323,322, 322,323,324,323,325, 323,324,325,324,326, 325,324,326,325,326, 326,325,327,326,328];
const TMX_TN_S2 = [318,319,318,319,318, 318,319,319,318,319, 320,319,320,321,320, 321,322,321,320,321, 322,321,323,322,323, 323,324,323,325,324, 325,324,326,325,325, 325,326,325,327,326, 327,326,327,326,327];

const TMX_AR_G1 = [299,301,298,302,300, 299,301,298,300,299, 300,297,301,299,300, 300,302,299,301,300, 301,299,302,300,301, 300,298,302,300,301, 301,299,302,300,303, 300,302,299,301,300, 301,299,302,300,301];
const TMX_AR_G2 = [298,302,300,299,301, 300,298,302,299,304, 301,299,300,296,302, 299,301,300,304,301, 300,302,299,301,303, 299,301,302,298,301, 300,302,301,299,302, 301,299,302,300,301, 300,301,299,302,300];
const TMX_AR_O1 = [300,297,301,299,298, 302,300,303,299,301, 300,302,299,301,300, 301,299,302,300,302, 301,303,300,302,301, 302,300,303,301,302, 303,301,305,302,303, 302,304,301,303,302, 303,301,304,302,303];
const TMX_AR_O2 = [298,300,297,301,299, 300,302,299,301,300, 301,299,302,300,301, 300,302,301,299,302, 302,300,303,301,302, 301,303,300,302,301, 302,306,301,303,302, 303,301,304,302,303, 302,304,301,303,304];
const TMX_AR_S1 = [300,298,301,299,300, 302,300,301,299,302, 300,303,301,304,300, 301,303,302,304,301, 302,304,301,303,302, 303,302,305,303,304, 305,303,306,304,305, 305,304,307,305,306, 306,305,308,307,309];
const TMX_AR_S2 = [299,301,298,300,302, 300,301,299,302,301, 301,299,302,300,303, 302,304,301,303,302, 303,302,305,303,304, 304,303,306,304,305, 304,306,305,307,305, 306,305,307,306,308, 307,306,308,307,308];

// ---------- tas Mnm ----------
const TMN_ANT_G1 = [201,198,204,200,203, 203,200,205,201,199, 202,198,203,200,204, 201,205,199,203,200, 204,201,206,202,203, 203,199,205,196,202, 204,201,206,203,205, 203,200,205,202,204, 202,204,200,203,201];
const TMN_ANT_G2 = [205,201,198,203,199, 206,201,204,199,202, 204,200,203,198,205, 206,200,203,201,205, 202,206,200,204,207, 201,205,198,203,202, 207,203,200,205,202, 204,201,206,203,205, 203,200,205,202,203];
const TMN_ANT_O1 = [199,203,200,204,201, 202,205,200,203,201, 203,199,204,201,202, 194,203,200,205,202, 204,200,203,201,205, 202,206,200,204,202, 205,202,206,203,204, 203,199,205,202,206, 204,201,206,203,205];
const TMN_ANT_O2 = [202,199,204,201,203, 200,204,202,205,200, 201,204,200,203,202, 203,201,206,202,204, 201,205,202,203,206, 203,200,205,202,204, 206,202,205,203,207, 204,205,198,203,206, 201,205,203,204,206];
const TMN_ANT_S1 = [200,203,201,204,202, 201,205,200,203,201, 204,201,199,203,200, 202,204,200,206,202, 203,205,201,206,203, 204,201,207,203,205, 206,203,207,204,206, 205,203,211,206,208, 205,208,204,210,207];
const TMN_ANT_S2 = [203,200,205,202,201, 203,200,204,202,205, 201,203,197,202,204, 203,199,205,201,204, 204,201,206,203,207, 205,202,206,204,208, 203,206,204,208,205, 207,204,209,205,210, 206,204,211,207,208];

const TMN_TS_G1 = [233,236,230,238,234, 237,232,236,228,239, 235,238,232,237,234, 239,234,237,232,236, 235,230,238,233,240, 234,229,238,232,236, 235,238,231,237,234, 236,232,239,233,237, 234,238,232,236,233];
const TMN_TS_G2 = [237,233,239,235,236, 234,238,231,237,235, 236,233,239,234,238, 237,234,240,235,238, 237,233,239,235,236, 238,232,236,231,239, 236,233,237,230,238, 235,237,231,238,234, 237,235,239,233,238];
const TMN_TS_O1 = [236,240,234,238,235, 238,235,231,237,234, 236,239,233,237,235, 238,235,240,234,237, 236,238,233,239,235, 237,234,240,236,238, 238,235,240,236,238, 236,239,234,241,237, 238,235,240,236,238];
const TMN_TS_O2 = [238,235,241,236,239, 237,241,234,238,236, 232,237,234,239,236, 236,239,234,238,235, 239,236,241,237,238, 240,236,238,234,239, 237,240,235,239,236, 239,235,241,237,239, 225,236,240,237,239];
const TMN_TS_S1 = [227,238,233,240,236, 236,227,239,234,241, 240,235,229,238,235, 238,236,240,235,239, 239,237,244,236,239, 241,237,243,238,240, 240,237,243,239,241, 242,238,244,240,241, 240,243,239,245,241];
const TMN_TS_S2 = [238,234,240,236,239, 235,239,237,241,236, 239,236,241,237,240, 237,240,236,241,238, 242,238,240,236,241, 243,239,241,237,242, 239,242,238,244,240, 241,238,246,240,243, 243,239,245,241,244];

const TMN_TR_G1 = [264,266,263,267,265, 262,266,264,267,263, 265,261,266,263,267, 256,265,262,267,264, 263,266,261,267,264, 265,262,268,264,266, 265,263,268,264,266, 263,267,261,266,264, 265,257,266,262,265];
const TMN_TR_G2 = [265,263,267,264,266, 264,267,262,266,265, 263,267,264,266,262, 265,263,267,264,266, 266,262,267,264,267, 263,267,265,268,264, 267,264,268,262,266, 265,261,267,264,268, 263,267,261,266,264];
const TMN_TR_O1 = [264,266,263,257,265, 266,263,267,264,265, 265,262,268,264,266, 264,267,265,268,263, 266,264,268,265,267, 267,264,269,265,268, 266,269,264,268,266, 268,265,270,266,269, 267,270,265,269,267];
const TMN_TR_O2 = [266,264,267,265,266, 264,267,263,266,265, 266,264,268,265,267, 268,264,266,263,268, 265,268,264,267,266, 268,265,267,263,269, 268,266,270,265,268, 267,264,269,266,270, 269,266,268,265,269];
const TMN_TR_S1 = [265,267,264,266,265, 266,264,254,265,267, 264,266,263,268,265, 266,264,268,265,267, 267,265,269,266,268, 269,266,270,259,268, 270,267,272,268,270, 271,268,273,269,272, 272,270,274,271,273];
const TMN_TR_S2 = [266,264,267,265,266, 265,267,264,266,268, 253,265,268,266,267, 267,265,269,266,268, 268,266,270,267,269, 267,270,268,271,269, 271,268,272,270,273, 270,273,269,272,271, 273,271,274,272,274];

const TMN_TN_G1 = [216,212,219,215,217, 218,214,220,216,219, 215,218,206,216,219, 218,222,215,220,217, 219,216,221,218,222, 219,216,222,218,221, 219,215,221,217,210, 220,217,222,218,221, 217,221,215,222,220];
const TMN_TN_G2 = [218,214,220,216,219, 217,220,215,219,216, 214,219,212,218,216, 218,227,220,216,207, 217,221,215,219,214, 220,214,221,212,219, 216,220,214,221,218, 219,214,221,217,220, 218,212,220,216,219];
const TMN_TN_O1 = [217,220,215,219,216, 219,216,221,217,220, 218,214,220,216,219, 210,218,221,219,222, 220,217,223,219,221, 222,218,224,219,223, 221,218,224,220,223, 222,219,225,221,224, 223,220,226,222,224];
const TMN_TN_O2 = [219,216,224,218,221, 216,220,215,219,208, 219,215,221,217,220, 219,222,218,225,220, 221,218,223,219,222, 223,219,225,220,224, 222,220,226,221,224, 225,221,227,222,225, 224,221,227,223,225];
const TMN_TN_S1 = [217,207,219,215,220, 218,215,221,216,219, 216,220,214,219,216, 219,223,218,222,220, 221,219,224,220,225, 224,221,227,223,226, 225,222,228,224,227, 227,224,230,226,229, 229,227,232,230,232];
const TMN_TN_S2 = [218,215,221,217,220, 217,220,216,221,218, 219,216,221,215,218, 221,218,223,219,222, 222,220,225,221,224, 223,227,222,228,225, 226,223,229,225,228, 231,227,229,226,230, 230,228,233,229,232];

const TMN_AR_G1 = [206,210,204,209,207, 208,205,211,207,209, 206,210,203,208,206, 202,209,206,211,207, 208,205,211,207,210, 210,206,213,208,211, 210,206,212,208,211, 209,207,213,208,211, 210,207,214,209,212];
const TMN_AR_G2 = [207,211,205,209,203, 206,210,204,208,206, 209,205,211,207,210, 208,205,212,207,210, 207,211,204,209,206, 211,208,213,209,212, 206,211,208,213,205, 210,207,212,208,211, 196,209,205,211,207];
const TMN_AR_O1 = [198,207,204,209,206, 209,205,211,207,210, 207,211,205,209,206, 210,207,212,206,211, 203,209,206,212,208, 213,209,215,210,212, 209,213,208,214,210, 214,210,216,211,215, 213,217,211,216,214];
const TMN_AR_O2 = [206,209,204,208,206, 208,204,210,206,209, 205,209,207,211,204, 209,206,211,208,213, 211,207,213,209,212, 211,208,214,210,213, 212,209,215,211,214, 212,216,210,215,213, 215,212,218,213,217];
const TMN_AR_S1 = [208,205,210,207,209, 207,210,206,211,208, 210,207,212,208,214, 208,212,209,213,210, 210,214,209,215,211, 216,212,218,214,217, 215,219,213,220,217, 218,215,221,217,222, 221,218,224,220,226];
const TMN_AR_S2 = [209,206,211,208,210, 210,207,212,208,211, 209,212,208,213,210, 211,208,213,210,212, 213,210,215,211,214, 217,213,219,215,218, 218,214,220,216,219, 224,219,221,217,222, 223,219,224,221,225];

// series order: gray solid, gray dashed, orange solid, orange dashed, green solid, green dashed
const SERIES_COLORS = ["#778899", "#778899", "#FFA500", "#FFA500", "#4CAF50", "#4CAF50"];
const SERIES_DASHED = [false, true, false, true, false, true];

const PANELS = [
  { title: "rsds-Antarctic-Mxm", row: 0, col: 0, series: [RSDS_ANT_S1, RSDS_ANT_S2, RSDS_ANT_O1, RSDS_ANT_O2, RSDS_ANT_G1, RSDS_ANT_G2] },
  { title: "rsds-TemperateS-Mxm", row: 0, col: 1, series: [RSDS_TS_S1, RSDS_TS_S2, RSDS_TS_O1, RSDS_TS_O2, RSDS_TS_G1, RSDS_TS_G2] },
  { title: "rsds-Tropical-Mxm", row: 0, col: 2, series: [RSDS_TR_S1, RSDS_TR_S2, RSDS_TR_O1, RSDS_TR_O2, RSDS_TR_G1, RSDS_TR_G2] },
  { title: "rsds-TemperateN-Mxm", row: 0, col: 3, series: [RSDS_TN_S1, RSDS_TN_S2, RSDS_TN_O1, RSDS_TN_O2, RSDS_TN_G1, RSDS_TN_G2] },
  { title: "rsds-Arctic-Mxm", row: 0, col: 4, series: [RSDS_AR_S1, RSDS_AR_S2, RSDS_AR_O1, RSDS_AR_O2, RSDS_AR_G1, RSDS_AR_G2] },
  { title: "sfcWind-Antarctic-Mxm", row: 1, col: 0, series: [WIND_ANT_S1, WIND_ANT_S2, WIND_ANT_O1, WIND_ANT_O2, WIND_ANT_G1, WIND_ANT_G2] },
  { title: "sfcWind-TemperateS-Mxm", row: 1, col: 1, series: [WIND_TS_S1, WIND_TS_S2, WIND_TS_O1, WIND_TS_O2, WIND_TS_G1, WIND_TS_G2] },
  { title: "sfcWind-Tropical-Mxm", row: 1, col: 2, series: [WIND_TR_S1, WIND_TR_S2, WIND_TR_O1, WIND_TR_O2, WIND_TR_G1, WIND_TR_G2] },
  { title: "sfcWind-TemperateN-Mxm", row: 1, col: 3, series: [WIND_TN_S1, WIND_TN_S2, WIND_TN_O1, WIND_TN_O2, WIND_TN_G1, WIND_TN_G2] },
  { title: "sfcWind-Arctic-Mxm", row: 1, col: 4, series: [WIND_AR_S1, WIND_AR_S2, WIND_AR_O1, WIND_AR_O2, WIND_AR_G1, WIND_AR_G2] },
  { title: "sfcWindmax-Antarctic-Mxm", row: 2, col: 0, series: [WMAX_ANT_S1, WMAX_ANT_S2, WMAX_ANT_O1, WMAX_ANT_O2, WMAX_ANT_G1, WMAX_ANT_G2] },
  { title: "sfcWindmax-TemperateS-Mxm", row: 2, col: 1, series: [WMAX_TS_S1, WMAX_TS_S2, WMAX_TS_O1, WMAX_TS_O2, WMAX_TS_G1, WMAX_TS_G2] },
  { title: "sfcWindmax-Tropical-Mxm", row: 2, col: 2, series: [WMAX_TR_S1, WMAX_TR_S2, WMAX_TR_O1, WMAX_TR_O2, WMAX_TR_G1, WMAX_TR_G2] },
  { title: "sfcWindmax-TemperateN-Mxm", row: 2, col: 3, series: [WMAX_TN_S1, WMAX_TN_S2, WMAX_TN_O1, WMAX_TN_O2, WMAX_TN_G1, WMAX_TN_G2] },
  { title: "sfcWindmax-Arctic-Mxm", row: 2, col: 4, series: [WMAX_AR_S1, WMAX_AR_S2, WMAX_AR_O1, WMAX_AR_O2, WMAX_AR_G1, WMAX_AR_G2] },
  { title: "tas-Antarctic-Mxm", row: 3, col: 0, series: [TMX_ANT_S1, TMX_ANT_S2, TMX_ANT_O1, TMX_ANT_O2, TMX_ANT_G1, TMX_ANT_G2] },
  { title: "tas-TemperateS-Mxm", row: 3, col: 1, series: [TMX_TS_S1, TMX_TS_S2, TMX_TS_O1, TMX_TS_O2, TMX_TS_G1, TMX_TS_G2] },
  { title: "tas-Tropical-Mxm", row: 3, col: 2, series: [TMX_TR_S1, TMX_TR_S2, TMX_TR_O1, TMX_TR_O2, TMX_TR_G1, TMX_TR_G2] },
  { title: "tas-TemperateN-Mxm", row: 3, col: 3, series: [TMX_TN_S1, TMX_TN_S2, TMX_TN_O1, TMX_TN_O2, TMX_TN_G1, TMX_TN_G2] },
  { title: "tas-Arctic-Mxm", row: 3, col: 4, series: [TMX_AR_S1, TMX_AR_S2, TMX_AR_O1, TMX_AR_O2, TMX_AR_G1, TMX_AR_G2] },
  { title: "tas-Antarctic-Mnm", row: 4, col: 0, series: [TMN_ANT_S1, TMN_ANT_S2, TMN_ANT_O1, TMN_ANT_O2, TMN_ANT_G1, TMN_ANT_G2] },
  { title: "tas-TemperateS-Mnm", row: 4, col: 1, series: [TMN_TS_S1, TMN_TS_S2, TMN_TS_O1, TMN_TS_O2, TMN_TS_G1, TMN_TS_G2] },
  { title: "tas-Tropical-Mnm", row: 4, col: 2, series: [TMN_TR_S1, TMN_TR_S2, TMN_TR_O1, TMN_TR_O2, TMN_TR_G1, TMN_TR_G2] },
  { title: "tas-TemperateN-Mnm", row: 4, col: 3, series: [TMN_TN_S1, TMN_TN_S2, TMN_TN_O1, TMN_TN_O2, TMN_TN_G1, TMN_TN_G2] },
  { title: "tas-Arctic-Mnm", row: 4, col: 4, series: [TMN_AR_S1, TMN_AR_S2, TMN_AR_O1, TMN_AR_O2, TMN_AR_G1, TMN_AR_G2] },
];

// ---------- layout ----------
const FONT = '"DejaVu Sans", "Liberation Sans", sans-serif';
const TICK_FONT_SIZE = 12.5;
const TITLE_FONT_SIZE = 14.5;
const LABEL_FONT_SIZE = 12.5;
const GRID_COLOR = "#b0b0b0";
const SPINE_COLOR = "#262626";
const AXW = 52;
const AXH = 30;
const PADT = 14;
const PADR = 24;
const YLABEL_X = [18, 14, 25, 18, 18];

function plotRect(row: number, col: number) {
  const left = Math.round(58 + 264.1 * col);
  const right = Math.round(58 + 264.1 * col + 241);
  const top = Math.round(24 + 270.4 * row);
  const bottom = Math.round(24 + 270.4 * row + 225.4);
  return { left, top, w: right - left, h: bottom - top };
}

function toPoints(vals: number[]) {
  const pts: { x: number; y: number | null }[] = [];
  vals.forEach((v, i) => {
    if (i > 0 && i % SEG_LEN === 0) pts.push({ x: (YEARS[i - 1] + YEARS[i]) / 2, y: null });
    pts.push({ x: YEARS[i], y: v });
  });
  return pts;
}

const spinePlugin = {
  id: "spines",
  afterDraw(chart: any) {
    const { ctx, chartArea: a } = chart;
    ctx.save();
    ctx.strokeStyle = SPINE_COLOR;
    ctx.lineWidth = 1;
    ctx.strokeRect(a.left + 0.5, a.top + 0.5, a.right - a.left - 1, a.bottom - a.top - 1);
    ctx.restore();
  },
};

export default function App() {
  const refs = useRef<(HTMLCanvasElement | null)[]>([]);

  useEffect(() => {
    const charts = PANELS.map((p, i) => {
      const cv = refs.current[i];
      if (!cv) return null;
      const row = p.row;
      const datasets = p.series.map((vals, k) => ({
        data: toPoints(vals),
        borderColor: SERIES_COLORS[k],
        backgroundColor: SERIES_COLORS[k],
        borderWidth: 1.7,
        borderDash: SERIES_DASHED[k] ? [6.5, 3] : [],
        pointRadius: 0,
        tension: 0,
        fill: false,
        spanGaps: false,
      }));
      return new Chart(cv, {
        type: "line",
        data: { datasets },
        plugins: [spinePlugin],
        options: {
          responsive: false,
          animation: false,
          devicePixelRatio: 1,
          layout: { padding: { top: PADT, right: PADR, left: 0, bottom: 0 } },
          plugins: { legend: { display: false }, tooltip: { enabled: false }, title: { display: false } },
          scales: {
            x: {
              type: "linear",
              min: X_MIN,
              max: X_MAX,
              afterBuildTicks: (s: any) => { s.ticks = X_TICKS.map((v) => ({ value: v })); },
              afterFit: (s: any) => { s.height = AXH; },
              border: { display: false },
              grid: { color: GRID_COLOR, lineWidth: 0.8, drawTicks: true, tickLength: 4, tickColor: SPINE_COLOR, tickWidth: 1 },
              ticks: {
                color: "#000",
                font: { family: FONT, size: TICK_FONT_SIZE },
                padding: 0,
                maxRotation: 0,
                autoSkip: false,
                callback: (v: any) => String(v),
              },
            },
            y: {
              type: "linear",
              min: ROW_MIN[row],
              max: ROW_MAX[row],
              afterBuildTicks: (s: any) => { s.ticks = ROW_TICKS[row].map((v) => ({ value: v })); },
              afterFit: (s: any) => { s.width = AXW; },
              border: { display: false },
              grid: { color: GRID_COLOR, lineWidth: 0.8, drawTicks: true, tickLength: 4, tickColor: SPINE_COLOR, tickWidth: 1 },
              ticks: {
                display: p.col === 0,
                color: "#000",
                font: { family: FONT, size: TICK_FONT_SIZE },
                padding: 6,
                autoSkip: false,
                callback: (v: any) => (row === 1 ? Number(v).toFixed(1) : String(v)),
              },
            },
          },
        },
      } as any);
    });
    return () => charts.forEach((c) => c && c.destroy());
  }, []);

  return (
    <div style={{ position: "absolute", left: 0, top: 0, width: 1375, height: 1364, background: "#fff", fontFamily: FONT, color: "#000" }}>
      {PANELS.map((p, i) => {
        const r = plotRect(p.row, p.col);
        const cw = r.w + AXW + PADR;
        const ch = r.h + PADT + AXH;
        return (
          <React.Fragment key={i}>
            <canvas
              ref={(el) => { refs.current[i] = el; }}
              width={cw}
              height={ch}
              style={{ position: "absolute", left: r.left - AXW, top: r.top - PADT, width: cw, height: ch }}
            />
            <div
              style={{
                position: "absolute", left: r.left - 20, width: r.w + 40, top: r.top - 18, height: 17,
                lineHeight: "17px", fontSize: TITLE_FONT_SIZE, textAlign: "center", whiteSpace: "nowrap",
              }}
            >
              {p.title}
            </div>
          </React.Fragment>
        );
      })}
      {ROW_UNIT.map((u, row) => {
        const r = plotRect(row, 0);
        return (
          <div
            key={"yl" + row}
            style={{
              position: "absolute", left: YLABEL_X[row], top: r.top + r.h / 2,
              transform: "translate(-50%, -50%) rotate(-90deg)", fontSize: LABEL_FONT_SIZE, whiteSpace: "nowrap", lineHeight: "15px",
            }}
          >
            [{u}
            {ROW_SUP[row] ? <sup style={{ fontSize: "70%", verticalAlign: "super", lineHeight: 0 }}>{ROW_SUP[row]}</sup> : null}]
          </div>
        );
      })}
      {[0, 1, 2, 3, 4].map((col) => {
        const r = plotRect(4, col);
        return (
          <div
            key={"xl" + col}
            style={{
              position: "absolute", left: r.left, width: r.w, top: r.top + r.h + 16, height: 15,
              lineHeight: "15px", fontSize: LABEL_FONT_SIZE, textAlign: "center",
            }}
          >
            Year
          </div>
        );
      })}
    </div>
  );
}
